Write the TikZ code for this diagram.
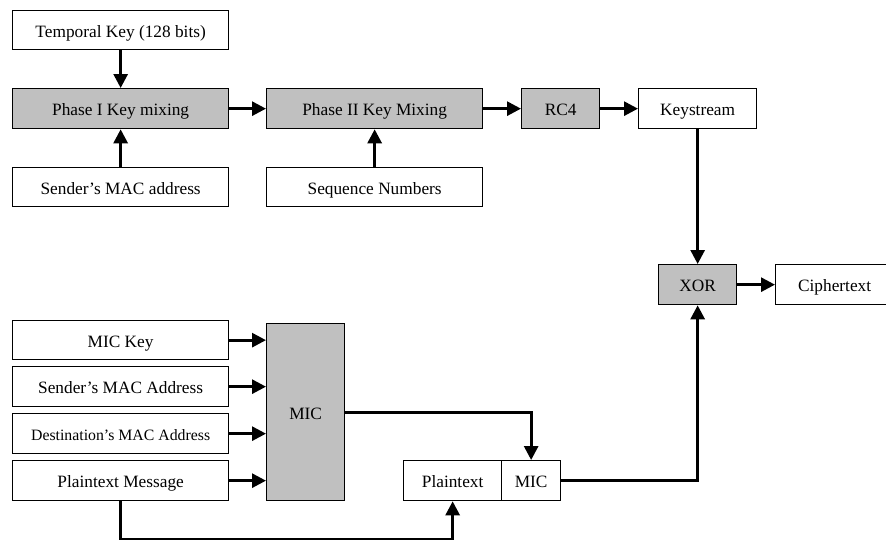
\documentclass[tikz,border=0pt]{standalone}
\usepackage{fontspec}
\setmainfont{Liberation Serif}
\usetikzlibrary{arrows.meta}
\definecolor{boxgray}{RGB}{192,192,192}
\tikzset{
  box/.style={draw=black, line width=1.3pt, fill=white, anchor=north west, inner sep=0pt,
    text height=15.5pt, text depth=1.5pt,
    font=\fontsize{17.3}{20}\selectfont},
  gbox/.style={box, fill=boxgray},
  conn/.style={line width=2.8pt, -{Triangle[length=14pt,width=14pt]}},
  plain/.style={line width=2.8pt}
}
\newcommand{\bx}[7]{\node[#1, minimum width=#4pt, minimum height=#5pt] (#2) at (#3) {#6#7};}
\begin{document}
\begin{tikzpicture}[x=1pt,y=-1pt]
\useasboundingbox (0,0) rectangle (886,539);
\clip (0,0) rectangle (886,539);
\bx{box}{tk}{12,10}{216}{39}{}{Temporal Key (128 bits)}
\bx{gbox}{p1}{12,88}{216}{40}{}{Phase I Key mixing}
\bx{box}{smac}{12,167}{216}{39}{}{Sender’s MAC address}
\bx{gbox}{p2}{266,88}{216}{40}{}{Phase II Key Mixing}
\bx{box}{seq}{266,167}{216}{39}{}{Sequence Numbers}
\bx{gbox}{rc4}{521,88}{78}{40}{}{RC4}
\bx{box}{ks}{638,88}{118}{40}{}{Keystream}
\bx{gbox}{xor}{658,264}{78}{40}{}{XOR}
\bx{box}{ct}{775,264}{118}{40}{}{Ciphertext}
\bx{box}{mick}{12,320}{216}{39}{}{MIC Key}
\bx{box}{smac2}{12,366}{216}{40}{}{Sender’s MAC Address}
\bx{box}{dmac}{12,413}{216}{40}{\fontsize{15.8}{18}\selectfont}{Destination’s MAC Address}
\bx{box}{ptm}{12,460}{216}{40}{}{Plaintext Message}
\bx{gbox}{mic}{266,323}{78}{177}{}{MIC}
\bx{box}{pt}{403,460}{98}{40}{}{Plaintext}
\bx{box}{micsm}{501,460}{59}{40}{}{MIC}

\draw[conn] (tk.south) -- (p1.north);
\draw[conn] (smac.north) -- (p1.south);
\draw[conn] (p1.east) -- (p2.west);
\draw[conn] (seq.north) -- (p2.south);
\draw[conn] (p2.east) -- (rc4.west);
\draw[conn] (rc4.east) -- (ks.west);
\draw[conn] (ks.south) -- (xor.north);
\draw[conn] (xor.east) -- (ct.west);
\draw[conn] (mick.east) -- (mick.east -| mic.west);
\draw[conn] (smac2.east) -- (smac2.east -| mic.west);
\draw[conn] (dmac.east) -- (dmac.east -| mic.west);
\draw[conn] (ptm.east) -- (ptm.east -| mic.west);
\draw[conn] (mic.east) -| (micsm.north);
\draw[conn] (ptm.south) -- ++(0,38) -| (pt.south);
\draw[conn] (micsm.east) -| (xor.south);
\end{tikzpicture}
\end{document}
